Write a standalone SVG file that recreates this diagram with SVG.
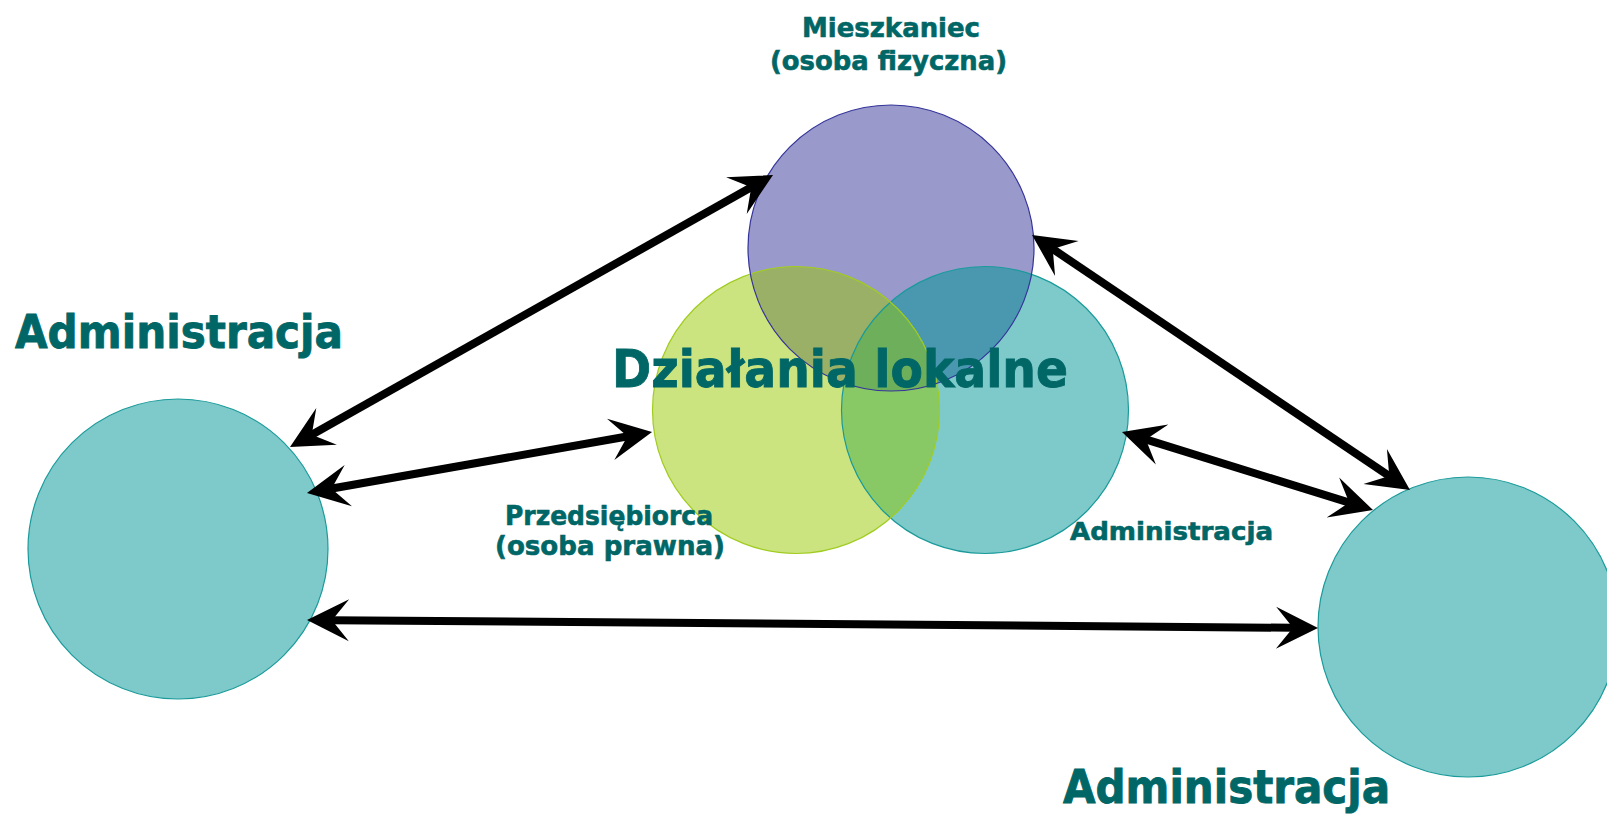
<svg xmlns="http://www.w3.org/2000/svg" width="1607" height="815" viewBox="0 0 1607 815">
<style>
.lbl{font-family:"DejaVu Sans","Liberation Sans",sans-serif;font-weight:bold;fill:#006666;stroke:#006666;stroke-width:0.9;paint-order:stroke}
.sm{stroke-width:0.6}
.adm{fill:#7ECACA;stroke:#1A9A9A;stroke-width:1.2}
.con{stroke:#000;stroke-width:8;fill:none;marker-start:url(#ah);marker-end:url(#ah)}
</style>
<defs>
<marker id="ah" viewBox="-48 -26 52 52" markerWidth="52" markerHeight="52" refX="-24" refY="0" markerUnits="userSpaceOnUse" orient="auto-start-reverse">
<path d="M0,0 L-42,-21 L-25,0 L-42,21 Z" fill="#000"/>
</marker>
<clipPath id="cpP"><circle cx="891" cy="248" r="143"/></clipPath>
<clipPath id="cpG"><circle cx="796" cy="410" r="143.5"/></clipPath>
<clipPath id="cpPG" clip-path="url(#cpP)"><circle cx="796" cy="410" r="143.5"/></clipPath>
</defs>
<rect width="1607" height="815" fill="#FFFFFF"/>

<g id="admin-left">
<circle class="adm" cx="178" cy="549" r="150"/>
<text class="lbl" x="15" y="348" font-size="46" textLength="328" lengthAdjust="spacingAndGlyphs">Administracja</text>
</g>

<g id="admin-right">
<circle class="adm" cx="1468" cy="627" r="150"/>
<text class="lbl" x="1063" y="803" font-size="46" textLength="327" lengthAdjust="spacingAndGlyphs">Administracja</text>
</g>

<g id="venn">
<circle cx="891" cy="248" r="143" fill="#9999CC"/>
<circle cx="796" cy="410" r="143.5" fill="#CCE480"/>
<circle cx="985" cy="410" r="143.5" fill="#7ECACA"/>
<circle cx="796" cy="410" r="143.5" fill="#9AB066" clip-path="url(#cpP)"/>
<circle cx="985" cy="410" r="143.5" fill="#4A98B0" clip-path="url(#cpP)"/>
<circle cx="985" cy="410" r="143.5" fill="#88C966" clip-path="url(#cpG)"/>
<circle cx="985" cy="410" r="143.5" fill="#6DAF5B" clip-path="url(#cpPG)"/>
<circle cx="985" cy="410" r="143.5" fill="none" stroke="#1A9A9A" stroke-width="1.2"/>
<circle cx="796" cy="410" r="143.5" fill="none" stroke="#A0CC20" stroke-width="1.2"/>
<circle cx="891" cy="248" r="143" fill="none" stroke="#34349A" stroke-width="1.2"/>
</g>

<g id="label-mieszkaniec">
<text class="lbl sm" x="802" y="37" font-size="27" textLength="178" lengthAdjust="spacingAndGlyphs">Mieszkaniec</text>
<text class="lbl sm" x="770" y="70" font-size="27" textLength="237" lengthAdjust="spacingAndGlyphs">(osoba fizyczna)</text>
</g>
<g id="label-przedsiebiorca">
<text class="lbl sm" x="505" y="525" font-size="27" textLength="208" lengthAdjust="spacingAndGlyphs">Przedsiębiorca</text>
<text class="lbl sm" x="495" y="555" font-size="27" textLength="230" lengthAdjust="spacingAndGlyphs">(osoba prawna)</text>
</g>
<g id="label-administracja-small">
<text class="lbl sm" x="1070" y="540" font-size="25" textLength="203" lengthAdjust="spacingAndGlyphs">Administracja</text>
</g>

<g id="connectors">
<line class="con" x1="310.9" y1="435.2" x2="752.1" y2="186.8"/>
<line class="con" x1="330.6" y1="488.8" x2="628.4" y2="436.2"/>
<line class="con" x1="331" y1="620.2" x2="1294" y2="627.8"/>
<line class="con" x1="1051.9" y1="248.4" x2="1390.1" y2="476.6"/>
<line class="con" x1="1144.9" y1="439.1" x2="1350.1" y2="502.9"/>
</g>

<g id="title">
<text class="lbl" x="612" y="387" font-size="52" textLength="456" lengthAdjust="spacingAndGlyphs">Działania lokalne</text>
</g>
</svg>
